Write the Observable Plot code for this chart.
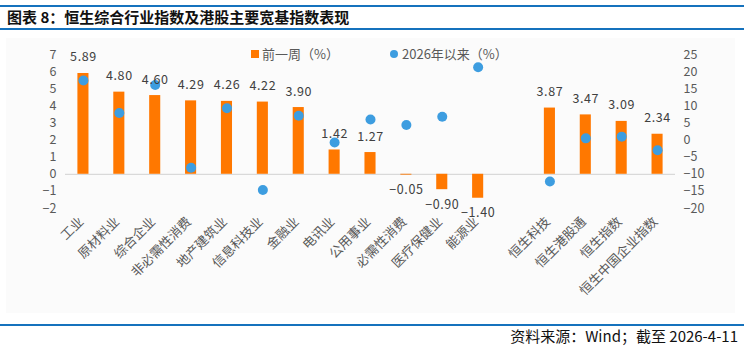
<!DOCTYPE html>
<html>
<head>
<meta charset="utf-8">
<script src="https://cdn.jsdelivr.net/npm/d3@7"></script>
<script src="https://cdn.jsdelivr.net/npm/@observablehq/plot@0.6"></script>
<style>
  body { margin: 0; background: #fff; }
  #wrap { position: relative; width: 744px; height: 350px; background: #fff; font-family: "Noto Sans CJK SC", "Noto Sans", sans-serif; overflow: hidden; }
  .abs { position: absolute; }
  .hline { position: absolute; left: 0; width: 744px; height: 2px; background: #1572bd; }
  .lbl text { letter-spacing: 0.6px; }
</style>
</head>
<body>
<div id="wrap">
  <div class="hline" style="top:5px"></div>
  <div class="abs" style="left:7px;top:5px;font-size:15px;font-weight:bold;line-height:23px;color:#111;">图表 8：恒生综合行业指数及港股主要宽基指数表现</div>
  <div class="hline" style="top:28px"></div>
  <div class="abs" style="left:6px;top:38px;width:729px;height:275px;background:#fbfbfb;"></div>
  <div id="chart" class="abs" style="left:0;top:32px;"></div>
  <div class="abs" style="left:251px;top:50px;width:8px;height:8px;background:#ff7800;"></div>
  <div class="abs" style="left:262px;top:45px;font-size:13px;line-height:18px;color:#595959;">前一周（%）</div>
  <div class="abs" style="left:390px;top:50px;width:8px;height:8px;border-radius:50%;background:#3d9de0;"></div>
  <div class="abs" style="left:402px;top:45px;font-size:13px;line-height:18px;color:#595959;">2026年以来（%）</div>
  <div class="hline" style="top:324px"></div>
  <div class="abs" style="right:6px;top:326px;font-size:15px;line-height:20px;color:#111;">资料来源：Wind；截至 2026-4-11</div>
</div>
<script>
const categories = ["工业","原材料业","综合企业","非必需性消费","地产建筑业","信息科技业","金融业","电讯业","公用事业","必需性消费","医疗保健业","能源业","恒生科技","恒生港股通","恒生指数","恒生中国企业指数"];
const weekly = [5.89, 4.80, 4.60, 4.29, 4.26, 4.22, 3.90, 1.42, 1.27, -0.05, -0.90, -1.40, 3.87, 3.47, 3.09, 2.34];
const ytd = [17.4, 7.9, 16.1, -8.1, 9.3, -14.6, 7.1, -0.7, 6.0, 4.4, 6.8, 21.3, -12.1, 0.5, 1.0, -3.0];
const leftTicks = [-2, -1, 0, 1, 2, 3, 4, 5, 6, 7];
const rightTicks = [-20, -15, -10, -5, 0, 5, 10, 15, 20, 25];

const GAP = "__gap__";
const xDomain = [...categories.slice(0, 12), GAP, ...categories.slice(12)];
const data = categories.map((c, i) => ({cat: c, week: weekly[i], ytd: ytd[i]}));
// map right-axis values onto left-axis scale: right -20..25 <-> left -2..7
const toLeft = v => (v + 20) / 45 * 9 - 2;
const toRight = d => (d + 2) * 5 - 20;
const fmtInt = d3.format("d");
const fmt2 = d3.format(".2f");

const plot = Plot.plot({
  width: 744,
  height: 288,
  marginTop: 22,
  marginBottom: 112,
  marginLeft: 65,
  marginRight: 69,
  style: {background: "transparent", fontFamily: "'Noto Sans CJK SC', 'Noto Sans', sans-serif", fontSize: "12px", color: "#595959"},
  x: {domain: xDomain, padding: 0, round: false, axis: null},
  y: {domain: [-2, 7], axis: null},
  marks: [
    Plot.ruleY([0], {stroke: "#d9d9d9", strokeWidth: 1.2}),
    Plot.barY(data, {x: "cat", y: "week", fill: "#ff7800", insetLeft: 12.4, insetRight: 12.4}),
    Plot.dot(data, {x: "cat", y: d => toLeft(d.ytd), r: 5, fill: "#3d9de0"}),
    Plot.text(data.filter(d => d.week >= 0), {x: "cat", y: "week", text: d => fmt2(d.week), dy: -16, fill: "#404040", fontSize: 12.5, className: "lbl"}),
    Plot.text(data.filter(d => d.week < 0), {x: "cat", y: "week", text: d => fmt2(d.week), dy: 15, fill: "#404040", fontSize: 12.5, className: "lbl"}),
    Plot.axisY(leftTicks, {anchor: "left", label: null, tickSize: 0, tickPadding: 9, tickFormat: fmtInt, fill: "#595959", fontSize: 12.5}),
    Plot.axisY(rightTicks.map(toLeft), {anchor: "right", label: null, tickSize: 0, tickPadding: 8, tickFormat: d => fmtInt(Math.round(toRight(d))), fill: "#595959", fontSize: 12.5}),
    Plot.axisX(xDomain, {anchor: "bottom", label: null, tickSize: 0, tickPadding: 11, dx: -2, tickRotate: -45, tickFormat: d => d === GAP ? "" : d, fill: "#595959", fontSize: 13})
  ]
});
document.getElementById("chart").appendChild(plot);
</script>
</body>
</html>
